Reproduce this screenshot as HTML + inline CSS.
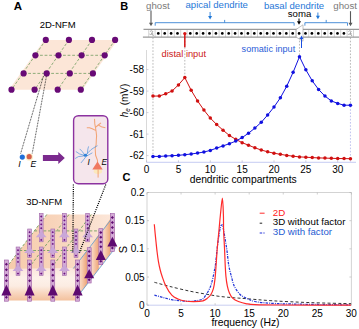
<!DOCTYPE html>
<html><head><meta charset="utf-8"><style>
html,body{margin:0;padding:0;background:#fff;width:359px;height:329px;overflow:hidden;}
svg{display:block;font-family:"Liberation Sans",sans-serif;}
</style></head><body>
<svg width="359" height="329" viewBox="0 0 359 329" font-family="Liberation Sans, sans-serif"><text x="13.80" y="10.20" font-size="11.5" fill="#000" text-anchor="start" font-weight="bold" font-style="normal" >A</text>
<text x="39.70" y="28.20" font-size="9.5" fill="#000" text-anchor="start" font-weight="normal" font-style="normal" >2D-NFM</text>
<polygon points="44.3,39.9 117.6,39.9 82.3,89.7 9.0,89.7" fill="#fce6d7"/>
<path d="M35.4,55.3L104.7,55.3M23.6,73.4L92.9,73.4M45.8,39.9L11.5,89.7M68.9,39.9L34.6,89.7M92.0,39.9L57.7,89.7M115.1,39.9L80.8,89.7" stroke="#88aa74" stroke-width="0.95" stroke-dasharray="2.8,1.8" fill="none"/>
<path d="M43.5,76L20.5,154M46.5,76L32.2,153.5" stroke="#111" stroke-width="0.85" stroke-dasharray="0.8,0.8" fill="none"/>
<circle cx="45.80" cy="39.90" r="3.1" fill="#680a76"/>
<circle cx="68.90" cy="39.90" r="3.1" fill="#680a76"/>
<circle cx="92.00" cy="39.90" r="3.1" fill="#680a76"/>
<circle cx="115.10" cy="39.90" r="3.1" fill="#680a76"/>
<circle cx="35.40" cy="55.30" r="3.1" fill="#680a76"/>
<circle cx="58.50" cy="55.30" r="3.1" fill="#680a76"/>
<circle cx="81.60" cy="55.30" r="3.1" fill="#680a76"/>
<circle cx="104.70" cy="55.30" r="3.1" fill="#680a76"/>
<circle cx="23.60" cy="73.40" r="3.1" fill="#680a76"/>
<circle cx="46.70" cy="73.40" r="3.1" fill="#680a76"/>
<circle cx="69.80" cy="73.40" r="3.1" fill="#680a76"/>
<circle cx="92.90" cy="73.40" r="3.1" fill="#680a76"/>
<circle cx="11.50" cy="89.70" r="3.1" fill="#680a76"/>
<circle cx="34.60" cy="89.70" r="3.1" fill="#680a76"/>
<circle cx="57.70" cy="89.70" r="3.1" fill="#680a76"/>
<circle cx="80.80" cy="89.70" r="3.1" fill="#680a76"/>
<circle cx="29.3" cy="157" r="3.8" fill="#fbeec8" opacity="0.9"/>
<circle cx="22.3" cy="157.1" r="2.6" fill="#1f6fd8"/>
<circle cx="29.2" cy="156.7" r="2.6" fill="#d4604c"/>
<text x="18.30" y="166.70" font-size="8.8" fill="#000" text-anchor="start" font-weight="normal" font-style="italic" >I</text>
<text x="30.40" y="166.70" font-size="8.6" fill="#000" text-anchor="start" font-weight="normal" font-style="italic" >E</text>
<path d="M42.9,155H58.3V151.9L64.8,158L58.3,164.1V161.1H42.9Z" fill="#7b2a8e"/>
<rect x="73.6" y="115.7" width="34.2" height="68" rx="4.8" fill="#f5e6ec" stroke="#8c32a0" stroke-width="1.4"/>
<path d="M94.5,118.9 L94.8,123.9 L95.5,127.7 L96.1,131.5 L96.6,135.9 L96.3,140.3 L96.1,144.7 L95.2,148.5 L95.6,155.3 L97.5,160.4 L97.5,163 M95.5,130.4 L92.3,128.8 L89.5,127.7 L86.8,127.7 M95.2,127.7 L98.3,125 L101,122.8 M98.3,125 L102.1,127.1 L105.4,127.7" stroke="#f2a476" stroke-width="1.05" fill="none" stroke-linejoin="round"/>
<ellipse cx="97.9" cy="171.3" rx="4.2" ry="2.6" fill="#fbe9bd"/>
<path d="M98.1,169.5 L98.1,177.6" stroke="#f2a476" stroke-width="1" fill="none"/>
<polygon points="97.5,161.6 102.7,169.5 92.3,169.5" fill="#f07862"/>
<path d="M85.4,155.3 L88.6,152.1 L91.1,149.6 L95,147 L97.5,145.7 M87.3,154 L87.9,148.9 L88.6,146.4 M84.1,154 L82.2,151.5 L79.7,148.9 M84.1,155.3 L79.7,154 L75.8,151.5 M83.5,156 L78.4,156.6 L75.2,158.5 M86,156.6 L83.5,159.8 L80.9,163 M86.7,156 L92.4,152.8" stroke="#5a9ade" stroke-width="0.75" fill="none" stroke-linejoin="round"/>
<ellipse cx="85.4" cy="155.3" rx="1.9" ry="1.5" fill="#2f80d6"/>
<text x="87.60" y="164.60" font-size="8.3" fill="#000" text-anchor="start" font-weight="normal" font-style="italic" >I</text>
<text x="101.60" y="164.60" font-size="8.3" fill="#000" text-anchor="start" font-weight="normal" font-style="italic" >E</text>
<text x="26.30" y="204.60" font-size="9.5" fill="#000" text-anchor="start" font-weight="normal" font-style="normal" >3D-NFM</text>
<defs>
<linearGradient id="gfront" x1="0" y1="0" x2="0" y2="1">
<stop offset="0" stop-color="#fbe6dc"/><stop offset="0.3" stop-color="#fdf1ea"/><stop offset="0.55" stop-color="#fcece2"/><stop offset="0.78" stop-color="#f8d5bd"/><stop offset="1" stop-color="#f3c19d"/></linearGradient>
<linearGradient id="gtop" x1="0" y1="0" x2="1" y2="0">
<stop offset="0" stop-color="#f6cbab"/><stop offset="0.45" stop-color="#f8d4ba"/><stop offset="1" stop-color="#fce7da"/></linearGradient>
<linearGradient id="gstripe" x1="0" y1="0" x2="1" y2="0">
<stop offset="0" stop-color="#fdebe0"/><stop offset="0.5" stop-color="#f8d2b8"/><stop offset="1" stop-color="#eda476"/></linearGradient>
<pattern id="pright" patternUnits="userSpaceOnUse" x="75.4" y="0" width="11.7" height="400">
<rect width="11.7" height="400" fill="url(#gstripe)"/></pattern>
</defs>
<polygon points="5.3,269 73.3,268.5 113.5,214.5 46.8,214.5" fill="url(#gtop)"/>
<polygon points="73.3,268.5 113.5,214.5 115.6,247.5 76.5,297.9" fill="url(#pright)"/>
<polygon points="5.3,269 74.8,268.5 76.5,297.9 76.5,300.5 5.3,300.5" fill="url(#gfront)"/>
<path d="M34.3,230.9L101.4,230.9M19.4,250.5L86.9,250.5M46.8,214.5L5.3,269.0M69.0,214.5L28.0,269.0M91.3,214.5L50.6,269.0" stroke="#80a66a" stroke-width="1.0" stroke-dasharray="2.8,1.8" fill="none"/>
<path d="M73.3,268.5L113.0,217.0M78.5,295.3L115.6,247.5" stroke="#5a9ad0" stroke-width="0.8" fill="none"/>
<rect x="39.30" y="213.30" width="3.8" height="28.5" fill="#d2aad6" stroke="#a066aa" stroke-width="0.6"/>
<path d="M41.20,215.35L42.35,216.50L41.20,217.65L40.05,216.50Z" fill="#6a1080"/>
<path d="M41.20,219.25L42.35,220.40L41.20,221.55L40.05,220.40Z" fill="#6a1080"/>
<path d="M41.20,223.15L42.35,224.30L41.20,225.45L40.05,224.30Z" fill="#6a1080"/>
<path d="M41.20,227.05L42.35,228.20L41.20,229.35L40.05,228.20Z" fill="#6a1080"/>
<path d="M41.20,238.75L42.35,239.90L41.20,241.05L40.05,239.90Z" fill="#6a1080"/>
<polygon points="41.20,231.10 46.60,237.30 35.80,237.30" fill="#c9a6d8"/>
<rect x="62.50" y="213.30" width="3.8" height="28.5" fill="#d2aad6" stroke="#a066aa" stroke-width="0.6"/>
<path d="M64.40,215.35L65.55,216.50L64.40,217.65L63.25,216.50Z" fill="#6a1080"/>
<path d="M64.40,219.25L65.55,220.40L64.40,221.55L63.25,220.40Z" fill="#6a1080"/>
<path d="M64.40,223.15L65.55,224.30L64.40,225.45L63.25,224.30Z" fill="#6a1080"/>
<path d="M64.40,227.05L65.55,228.20L64.40,229.35L63.25,228.20Z" fill="#6a1080"/>
<path d="M64.40,238.75L65.55,239.90L64.40,241.05L63.25,239.90Z" fill="#6a1080"/>
<polygon points="64.40,231.10 69.80,237.30 59.00,237.30" fill="#c9a6d8"/>
<rect x="85.70" y="213.30" width="3.8" height="28.5" fill="#d2aad6" stroke="#a066aa" stroke-width="0.6"/>
<path d="M87.60,215.35L88.75,216.50L87.60,217.65L86.45,216.50Z" fill="#6a1080"/>
<path d="M87.60,219.25L88.75,220.40L87.60,221.55L86.45,220.40Z" fill="#6a1080"/>
<path d="M87.60,223.15L88.75,224.30L87.60,225.45L86.45,224.30Z" fill="#6a1080"/>
<path d="M87.60,227.05L88.75,228.20L87.60,229.35L86.45,228.20Z" fill="#6a1080"/>
<path d="M87.60,238.75L88.75,239.90L87.60,241.05L86.45,239.90Z" fill="#6a1080"/>
<polygon points="87.60,231.10 93.00,237.30 82.20,237.30" fill="#c9a6d8"/>
<rect x="27.70" y="229.00" width="3.8" height="28.5" fill="#d2aad6" stroke="#a066aa" stroke-width="0.6"/>
<path d="M29.60,231.05L30.75,232.20L29.60,233.35L28.45,232.20Z" fill="#6a1080"/>
<path d="M29.60,234.95L30.75,236.10L29.60,237.25L28.45,236.10Z" fill="#6a1080"/>
<path d="M29.60,238.85L30.75,240.00L29.60,241.15L28.45,240.00Z" fill="#6a1080"/>
<path d="M29.60,242.75L30.75,243.90L29.60,245.05L28.45,243.90Z" fill="#6a1080"/>
<path d="M29.60,254.45L30.75,255.60L29.60,256.75L28.45,255.60Z" fill="#6a1080"/>
<polygon points="29.60,246.80 35.00,253.00 24.20,253.00" fill="#c9a6d8"/>
<rect x="50.90" y="229.00" width="3.8" height="28.5" fill="#d2aad6" stroke="#a066aa" stroke-width="0.6"/>
<path d="M52.80,231.05L53.95,232.20L52.80,233.35L51.65,232.20Z" fill="#6a1080"/>
<path d="M52.80,234.95L53.95,236.10L52.80,237.25L51.65,236.10Z" fill="#6a1080"/>
<path d="M52.80,238.85L53.95,240.00L52.80,241.15L51.65,240.00Z" fill="#6a1080"/>
<path d="M52.80,242.75L53.95,243.90L52.80,245.05L51.65,243.90Z" fill="#6a1080"/>
<path d="M52.80,254.45L53.95,255.60L52.80,256.75L51.65,255.60Z" fill="#6a1080"/>
<polygon points="52.80,246.80 58.20,253.00 47.40,253.00" fill="#c9a6d8"/>
<rect x="74.10" y="229.00" width="3.8" height="28.5" fill="#d2aad6" stroke="#a066aa" stroke-width="0.6"/>
<path d="M76.00,231.05L77.15,232.20L76.00,233.35L74.85,232.20Z" fill="#6a1080"/>
<path d="M76.00,234.95L77.15,236.10L76.00,237.25L74.85,236.10Z" fill="#6a1080"/>
<path d="M76.00,238.85L77.15,240.00L76.00,241.15L74.85,240.00Z" fill="#6a1080"/>
<path d="M76.00,242.75L77.15,243.90L76.00,245.05L74.85,243.90Z" fill="#6a1080"/>
<path d="M76.00,254.45L77.15,255.60L76.00,256.75L74.85,255.60Z" fill="#6a1080"/>
<polygon points="76.00,246.80 81.40,253.00 70.60,253.00" fill="#c9a6d8"/>
<rect x="16.10" y="247.00" width="3.8" height="28.5" fill="#d2aad6" stroke="#a066aa" stroke-width="0.6"/>
<path d="M18.00,249.05L19.15,250.20L18.00,251.35L16.85,250.20Z" fill="#6a1080"/>
<path d="M18.00,252.95L19.15,254.10L18.00,255.25L16.85,254.10Z" fill="#6a1080"/>
<path d="M18.00,256.85L19.15,258.00L18.00,259.15L16.85,258.00Z" fill="#6a1080"/>
<path d="M18.00,260.75L19.15,261.90L18.00,263.05L16.85,261.90Z" fill="#6a1080"/>
<path d="M18.00,272.45L19.15,273.60L18.00,274.75L16.85,273.60Z" fill="#6a1080"/>
<polygon points="18.00,264.80 23.40,271.00 12.60,271.00" fill="#c9a6d8"/>
<rect x="39.30" y="247.00" width="3.8" height="28.5" fill="#d2aad6" stroke="#a066aa" stroke-width="0.6"/>
<path d="M41.20,249.05L42.35,250.20L41.20,251.35L40.05,250.20Z" fill="#6a1080"/>
<path d="M41.20,252.95L42.35,254.10L41.20,255.25L40.05,254.10Z" fill="#6a1080"/>
<path d="M41.20,256.85L42.35,258.00L41.20,259.15L40.05,258.00Z" fill="#6a1080"/>
<path d="M41.20,260.75L42.35,261.90L41.20,263.05L40.05,261.90Z" fill="#6a1080"/>
<path d="M41.20,272.45L42.35,273.60L41.20,274.75L40.05,273.60Z" fill="#6a1080"/>
<polygon points="41.20,264.80 46.60,271.00 35.80,271.00" fill="#c9a6d8"/>
<rect x="62.50" y="247.00" width="3.8" height="28.5" fill="#d2aad6" stroke="#a066aa" stroke-width="0.6"/>
<path d="M64.40,249.05L65.55,250.20L64.40,251.35L63.25,250.20Z" fill="#6a1080"/>
<path d="M64.40,252.95L65.55,254.10L64.40,255.25L63.25,254.10Z" fill="#6a1080"/>
<path d="M64.40,256.85L65.55,258.00L64.40,259.15L63.25,258.00Z" fill="#6a1080"/>
<path d="M64.40,260.75L65.55,261.90L64.40,263.05L63.25,261.90Z" fill="#6a1080"/>
<path d="M64.40,272.45L65.55,273.60L64.40,274.75L63.25,273.60Z" fill="#6a1080"/>
<polygon points="64.40,264.80 69.80,271.00 59.00,271.00" fill="#c9a6d8"/>
<path d="M73.4,184.5L72.8,253M105.8,184.5L79.2,253" stroke="#000" stroke-width="1.25" stroke-dasharray="1.1,1.1" fill="none"/>
<rect x="110.45" y="213.50" width="3.9" height="38" fill="#d4abd6" stroke="#9a58a2" stroke-width="0.6"/>
<path d="M112.40,215.97L113.90,217.47L112.40,218.97L110.90,217.47Z" fill="#5e0a70"/>
<path d="M112.40,221.04L113.90,222.54L112.40,224.04L110.90,222.54Z" fill="#5e0a70"/>
<path d="M112.40,226.11L113.90,227.61L112.40,229.11L110.90,227.61Z" fill="#5e0a70"/>
<path d="M112.40,231.18L113.90,232.68L112.40,234.18L110.90,232.68Z" fill="#5e0a70"/>
<path d="M112.40,246.40L113.90,247.90L112.40,249.40L110.90,247.90Z" fill="#5e0a70"/>
<polygon points="112.40,236.70 117.40,246.50 107.40,246.50" fill="#5e0a70"/>
<rect x="98.85" y="228.70" width="3.9" height="36" fill="#d4abd6" stroke="#9a58a2" stroke-width="0.6"/>
<path d="M100.80,230.96L102.30,232.46L100.80,233.96L99.30,232.46Z" fill="#5e0a70"/>
<path d="M100.80,235.76L102.30,237.26L100.80,238.76L99.30,237.26Z" fill="#5e0a70"/>
<path d="M100.80,240.57L102.30,242.07L100.80,243.57L99.30,242.07Z" fill="#5e0a70"/>
<path d="M100.80,245.37L102.30,246.87L100.80,248.37L99.30,246.87Z" fill="#5e0a70"/>
<path d="M100.80,259.79L102.30,261.29L100.80,262.79L99.30,261.29Z" fill="#5e0a70"/>
<polygon points="100.80,250.10 105.80,259.90 95.80,259.90" fill="#5e0a70"/>
<rect x="87.25" y="247.70" width="3.9" height="35.3" fill="#d4abd6" stroke="#9a58a2" stroke-width="0.6"/>
<path d="M89.20,249.88L90.70,251.38L89.20,252.88L87.70,251.38Z" fill="#5e0a70"/>
<path d="M89.20,254.60L90.70,256.10L89.20,257.60L87.70,256.10Z" fill="#5e0a70"/>
<path d="M89.20,259.31L90.70,260.81L89.20,262.31L87.70,260.81Z" fill="#5e0a70"/>
<path d="M89.20,264.02L90.70,265.52L89.20,267.02L87.70,265.52Z" fill="#5e0a70"/>
<path d="M89.20,278.16L90.70,279.66L89.20,281.16L87.70,279.66Z" fill="#5e0a70"/>
<polygon points="89.20,268.90 94.20,278.20 84.20,278.20" fill="#5e0a70"/>
<rect x="4.45" y="260.00" width="3.9" height="41.2" fill="#d4abd6" stroke="#9a58a2" stroke-width="0.6"/>
<path d="M6.40,262.80L7.90,264.30L6.40,265.80L4.90,264.30Z" fill="#5e0a70"/>
<path d="M6.40,268.30L7.90,269.80L6.40,271.30L4.90,269.80Z" fill="#5e0a70"/>
<path d="M6.40,273.80L7.90,275.30L6.40,276.80L4.90,275.30Z" fill="#5e0a70"/>
<path d="M6.40,279.30L7.90,280.80L6.40,282.30L4.90,280.80Z" fill="#5e0a70"/>
<path d="M6.40,295.80L7.90,297.30L6.40,298.80L4.90,297.30Z" fill="#5e0a70"/>
<polygon points="6.40,284.40 11.40,295.60 1.40,295.60" fill="#5e0a70"/>
<rect x="27.65" y="260.00" width="3.9" height="41.2" fill="#d4abd6" stroke="#9a58a2" stroke-width="0.6"/>
<path d="M29.60,262.80L31.10,264.30L29.60,265.80L28.10,264.30Z" fill="#5e0a70"/>
<path d="M29.60,268.30L31.10,269.80L29.60,271.30L28.10,269.80Z" fill="#5e0a70"/>
<path d="M29.60,273.80L31.10,275.30L29.60,276.80L28.10,275.30Z" fill="#5e0a70"/>
<path d="M29.60,279.30L31.10,280.80L29.60,282.30L28.10,280.80Z" fill="#5e0a70"/>
<path d="M29.60,295.80L31.10,297.30L29.60,298.80L28.10,297.30Z" fill="#5e0a70"/>
<polygon points="29.60,284.40 34.60,295.60 24.60,295.60" fill="#5e0a70"/>
<rect x="50.85" y="260.00" width="3.9" height="41.2" fill="#d4abd6" stroke="#9a58a2" stroke-width="0.6"/>
<path d="M52.80,262.80L54.30,264.30L52.80,265.80L51.30,264.30Z" fill="#5e0a70"/>
<path d="M52.80,268.30L54.30,269.80L52.80,271.30L51.30,269.80Z" fill="#5e0a70"/>
<path d="M52.80,273.80L54.30,275.30L52.80,276.80L51.30,275.30Z" fill="#5e0a70"/>
<path d="M52.80,279.30L54.30,280.80L52.80,282.30L51.30,280.80Z" fill="#5e0a70"/>
<path d="M52.80,295.80L54.30,297.30L52.80,298.80L51.30,297.30Z" fill="#5e0a70"/>
<polygon points="52.80,284.40 57.80,295.60 47.80,295.60" fill="#5e0a70"/>
<rect x="75.65" y="260.00" width="3.9" height="41.2" fill="#d4abd6" stroke="#9a58a2" stroke-width="0.6"/>
<path d="M77.60,262.80L79.10,264.30L77.60,265.80L76.10,264.30Z" fill="#5e0a70"/>
<path d="M77.60,268.30L79.10,269.80L77.60,271.30L76.10,269.80Z" fill="#5e0a70"/>
<path d="M77.60,273.80L79.10,275.30L77.60,276.80L76.10,275.30Z" fill="#5e0a70"/>
<path d="M77.60,279.30L79.10,280.80L77.60,282.30L76.10,280.80Z" fill="#5e0a70"/>
<path d="M77.60,295.80L79.10,297.30L77.60,298.80L76.10,297.30Z" fill="#5e0a70"/>
<polygon points="77.60,284.40 82.60,295.60 72.60,295.60" fill="#5e0a70"/>
<text x="120.30" y="10.20" font-size="11" fill="#000" text-anchor="start" font-weight="bold" font-style="normal" >B</text>
<text x="146.10" y="8.70" font-size="9.7" fill="#7a7a7a" text-anchor="start" font-weight="normal" font-style="normal" >ghost</text>
<text x="333.30" y="8.70" font-size="9.7" fill="#7a7a7a" text-anchor="start" font-weight="normal" font-style="normal" >ghost</text>
<text x="185.50" y="8.20" font-size="9.6" fill="#1f78d8" text-anchor="start" font-weight="normal" font-style="normal" >apical dendrite</text>
<text x="263.90" y="8.80" font-size="9.6" fill="#1f78d8" text-anchor="start" font-weight="normal" font-style="normal" >basal dendrite</text>
<text x="287.80" y="16.80" font-size="9.6" fill="#000" text-anchor="start" font-weight="normal" font-style="normal" >soma</text>
<path d="M151,10.6L151,23.2" stroke="#585858" stroke-width="1.1"/>
<polygon points="149.0,22.7 153.0,22.7 151,26.2" fill="#585858"/>
<path d="M350.5,11.2L350.5,23.3" stroke="#585858" stroke-width="1.1"/>
<polygon points="348.5,22.8 352.5,22.8 350.5,26.3" fill="#585858"/>
<path d="M210.1,12L210.1,16.5" stroke="#1f78d8" stroke-width="0.9"/>
<polygon points="208.1,16.0 212.1,16.0 210.1,19.5" fill="#1f78d8"/>
<path d="M317.9,12.5L317.9,16.3" stroke="#1f78d8" stroke-width="0.9"/>
<polygon points="315.9,15.8 319.9,15.8 317.9,19.3" fill="#1f78d8"/>
<path d="M299,18.5L299,21.8" stroke="#000" stroke-width="1.0"/>
<polygon points="297.0,21.3 301.0,21.3 299,24.8" fill="#000"/>
<path d="M155.2,25.7V22.7H294.1V25.7M224.65,22.7V19.9" stroke="#3a84d4" stroke-width="0.9" fill="none"/>
<path d="M304.9,25.7V22.7H347.5V25.7M326.2,22.7V19.9" stroke="#3a84d4" stroke-width="0.9" fill="none"/>
<rect x="143.5" y="29.4" width="215.5" height="7.800000000000004" fill="#fff"/>
<path d="M148.70,29.4V37.2M155.10,29.4V37.2M161.50,29.4V37.2M167.90,29.4V37.2M174.30,29.4V37.2M180.70,29.4V37.2M187.10,29.4V37.2M193.50,29.4V37.2M199.90,29.4V37.2M206.30,29.4V37.2M212.70,29.4V37.2M219.10,29.4V37.2M225.50,29.4V37.2M231.90,29.4V37.2M238.30,29.4V37.2M244.70,29.4V37.2M251.10,29.4V37.2M257.50,29.4V37.2M263.90,29.4V37.2M270.30,29.4V37.2M276.70,29.4V37.2M283.10,29.4V37.2M289.50,29.4V37.2M295.90,29.4V37.2M302.30,29.4V37.2M308.70,29.4V37.2M315.10,29.4V37.2M321.50,29.4V37.2M327.90,29.4V37.2M334.30,29.4V37.2M340.70,29.4V37.2M347.10,29.4V37.2M353.50,29.4V37.2" stroke="#b8b8b8" stroke-width="0.6"/>
<path d="M143.5,29.4H359M142.9,37.2H359" stroke="#9a9a9a" stroke-width="1.2"/>
<circle cx="158.30" cy="33.4" r="1.35" fill="#000"/>
<circle cx="164.70" cy="33.4" r="1.35" fill="#000"/>
<circle cx="171.10" cy="33.4" r="1.35" fill="#000"/>
<circle cx="177.50" cy="33.4" r="1.35" fill="#000"/>
<circle cx="190.30" cy="33.4" r="1.35" fill="#000"/>
<circle cx="196.70" cy="33.4" r="1.35" fill="#000"/>
<circle cx="203.10" cy="33.4" r="1.35" fill="#000"/>
<circle cx="209.50" cy="33.4" r="1.35" fill="#000"/>
<circle cx="215.90" cy="33.4" r="1.35" fill="#000"/>
<circle cx="222.30" cy="33.4" r="1.35" fill="#000"/>
<circle cx="228.70" cy="33.4" r="1.35" fill="#000"/>
<circle cx="235.10" cy="33.4" r="1.35" fill="#000"/>
<circle cx="241.50" cy="33.4" r="1.35" fill="#000"/>
<circle cx="247.90" cy="33.4" r="1.35" fill="#000"/>
<circle cx="254.30" cy="33.4" r="1.35" fill="#000"/>
<circle cx="260.70" cy="33.4" r="1.35" fill="#000"/>
<circle cx="267.10" cy="33.4" r="1.35" fill="#000"/>
<circle cx="273.50" cy="33.4" r="1.35" fill="#000"/>
<circle cx="279.90" cy="33.4" r="1.35" fill="#000"/>
<circle cx="286.30" cy="33.4" r="1.35" fill="#000"/>
<circle cx="292.70" cy="33.4" r="1.35" fill="#000"/>
<circle cx="305.50" cy="33.4" r="1.35" fill="#000"/>
<circle cx="311.90" cy="33.4" r="1.35" fill="#000"/>
<circle cx="318.30" cy="33.4" r="1.35" fill="#000"/>
<circle cx="324.70" cy="33.4" r="1.35" fill="#000"/>
<circle cx="331.10" cy="33.4" r="1.35" fill="#000"/>
<circle cx="337.50" cy="33.4" r="1.35" fill="#000"/>
<circle cx="343.90" cy="33.4" r="1.35" fill="#000"/>
<path d="M296.2,29.4L303,24.8V41.2L296.2,37.2Z" fill="#fff" stroke="#9a9a9a" stroke-width="0.6"/>
<circle cx="299.10" cy="33.4" r="1.35" fill="#000"/>
<path d="M149.9,31.5q1.5,-1.5 3,0q-2,1.5 -1,3q1.5,0 1.5,1.5M149.4,34q1,1 2,0q1,-1.5 2,0" stroke="#8a8a8a" stroke-width="0.7" fill="none"/>
<path d="M348.3,31.5q1.5,-1.5 3,0q-2,1.5 -1,3q1.5,0 1.5,1.5M347.8,34q1,1 2,0q1,-1.5 2,0" stroke="#8a8a8a" stroke-width="0.7" fill="none"/>
<path d="M152.97,37.5V154M184.82,37.5V77M299.48,37.5V56M350.44,37.5V104" stroke="#9a9a9a" stroke-width="0.7" stroke-dasharray="1.6,1.6"/>
<path d="M350.44,106V161.5" stroke="#a4a8e8" stroke-width="0.7" stroke-dasharray="1.6,1.6"/>
<text x="161.60" y="56.60" font-size="9.3" fill="#cc1a1a" text-anchor="start" font-weight="normal" font-style="normal" >distal input</text>
<text x="241.60" y="51.70" font-size="9.1" fill="#2a5cd8" text-anchor="start" font-weight="normal" font-style="normal" >somatic input</text>
<path d="M184.82,47.2V34" stroke="#d41414" stroke-width="1.5"/>
<circle cx="184.82" cy="33.6" r="1.65" fill="#d41414"/>
<path d="M301.5,48V37.5" stroke="#1a4fe0" stroke-width="1"/>
<polygon points="299.6,39 303.4,39 301.5,35.4" fill="#1a4fe0"/>
<path d="M146.5,50V162.3" stroke="#cfcfcf" stroke-width="0.8" fill="none"/>
<path d="M146.5,162.3H356" stroke="#b8bff0" stroke-width="0.8" fill="none"/>
<text x="144.00" y="73.20" font-size="10" fill="#000" text-anchor="end" font-weight="normal" font-style="normal" >-58</text>
<text x="144.00" y="94.70" font-size="10" fill="#000" text-anchor="end" font-weight="normal" font-style="normal" >-59</text>
<text x="144.00" y="116.20" font-size="10" fill="#000" text-anchor="end" font-weight="normal" font-style="normal" >-60</text>
<text x="144.00" y="137.70" font-size="10" fill="#000" text-anchor="end" font-weight="normal" font-style="normal" >-61</text>
<text x="144.00" y="159.20" font-size="10" fill="#000" text-anchor="end" font-weight="normal" font-style="normal" >-62</text>
<text x="146.60" y="173.30" font-size="10" fill="#000" text-anchor="middle" font-weight="normal" font-style="normal" >0</text>
<text x="178.45" y="173.30" font-size="10" fill="#000" text-anchor="middle" font-weight="normal" font-style="normal" >5</text>
<text x="210.30" y="173.30" font-size="10" fill="#000" text-anchor="middle" font-weight="normal" font-style="normal" >10</text>
<text x="242.15" y="173.30" font-size="10" fill="#000" text-anchor="middle" font-weight="normal" font-style="normal" >15</text>
<text x="274.00" y="173.30" font-size="10" fill="#000" text-anchor="middle" font-weight="normal" font-style="normal" >20</text>
<text x="305.85" y="173.30" font-size="10" fill="#000" text-anchor="middle" font-weight="normal" font-style="normal" >25</text>
<text x="337.70" y="173.30" font-size="10" fill="#000" text-anchor="middle" font-weight="normal" font-style="normal" >30</text>
<path d="M146.5,69.60h2M146.5,91.10h2M146.5,112.60h2M146.5,134.10h2M146.5,155.60h2M146.60,162.3v-2M178.45,162.3v-2M210.30,162.3v-2M242.15,162.3v-2M274.00,162.3v-2M305.85,162.3v-2M337.70,162.3v-2" stroke="#b0b0c8" stroke-width="0.6"/>
<text x="243.20" y="183.00" font-size="10.3" fill="#000" text-anchor="middle" font-weight="normal" font-style="normal" >dendritic compartments</text>
<text transform="translate(128.2,100.5) rotate(-90)" font-size="10" text-anchor="middle" font-family="Liberation Sans, sans-serif"><tspan font-style="italic">h</tspan><tspan font-size="6.5" font-style="italic" dy="2">e</tspan><tspan dy="-2"> (mV)</tspan></text>
<polyline points="152.97,96.10 159.34,96.00 165.71,93.80 172.08,91.00 178.45,84.90 184.82,77.60 191.19,90.30 197.56,100.90 203.93,110.10 210.30,118.10 216.67,124.50 223.04,130.20 229.41,135.50 235.78,139.30 242.15,142.70 248.52,145.20 254.89,147.80 261.26,150.00 267.63,151.80 274.00,153.20 280.37,154.30 286.74,155.40 293.11,156.20 299.48,156.90 305.85,157.20 312.22,157.60 318.59,157.90 324.96,158.10 331.33,158.30 337.70,158.50 344.07,158.60 350.44,158.70" stroke="#d01010" stroke-width="1" fill="none"/>
<circle cx="152.97" cy="96.10" r="1.75" fill="#d01010"/>
<circle cx="159.34" cy="96.00" r="1.75" fill="#d01010"/>
<circle cx="165.71" cy="93.80" r="1.75" fill="#d01010"/>
<circle cx="172.08" cy="91.00" r="1.75" fill="#d01010"/>
<circle cx="178.45" cy="84.90" r="1.75" fill="#d01010"/>
<circle cx="184.82" cy="77.60" r="1.75" fill="#d01010"/>
<circle cx="191.19" cy="90.30" r="1.75" fill="#d01010"/>
<circle cx="197.56" cy="100.90" r="1.75" fill="#d01010"/>
<circle cx="203.93" cy="110.10" r="1.75" fill="#d01010"/>
<circle cx="210.30" cy="118.10" r="1.75" fill="#d01010"/>
<circle cx="216.67" cy="124.50" r="1.75" fill="#d01010"/>
<circle cx="223.04" cy="130.20" r="1.75" fill="#d01010"/>
<circle cx="229.41" cy="135.50" r="1.75" fill="#d01010"/>
<circle cx="235.78" cy="139.30" r="1.75" fill="#d01010"/>
<circle cx="242.15" cy="142.70" r="1.75" fill="#d01010"/>
<circle cx="248.52" cy="145.20" r="1.75" fill="#d01010"/>
<circle cx="254.89" cy="147.80" r="1.75" fill="#d01010"/>
<circle cx="261.26" cy="150.00" r="1.75" fill="#d01010"/>
<circle cx="267.63" cy="151.80" r="1.75" fill="#d01010"/>
<circle cx="274.00" cy="153.20" r="1.75" fill="#d01010"/>
<circle cx="280.37" cy="154.30" r="1.75" fill="#d01010"/>
<circle cx="286.74" cy="155.40" r="1.75" fill="#d01010"/>
<circle cx="293.11" cy="156.20" r="1.75" fill="#d01010"/>
<circle cx="299.48" cy="156.90" r="1.75" fill="#d01010"/>
<circle cx="305.85" cy="157.20" r="1.75" fill="#d01010"/>
<circle cx="312.22" cy="157.60" r="1.75" fill="#d01010"/>
<circle cx="318.59" cy="157.90" r="1.75" fill="#d01010"/>
<circle cx="324.96" cy="158.10" r="1.75" fill="#d01010"/>
<circle cx="331.33" cy="158.30" r="1.75" fill="#d01010"/>
<circle cx="337.70" cy="158.50" r="1.75" fill="#d01010"/>
<circle cx="344.07" cy="158.60" r="1.75" fill="#d01010"/>
<circle cx="350.44" cy="158.70" r="1.75" fill="#d01010"/>
<polyline points="152.97,156.40 159.34,156.40 165.71,156.00 172.08,155.70 178.45,155.30 184.82,154.70 191.19,154.00 197.56,153.10 203.93,152.00 210.30,150.40 216.67,148.10 223.04,145.90 229.41,143.70 235.78,141.10 242.15,137.60 248.52,133.20 254.89,128.10 261.26,122.30 267.63,115.00 274.00,107.00 280.37,97.80 286.74,86.20 293.11,72.30 299.48,56.70 305.85,69.80 312.22,80.80 318.59,89.50 324.96,96.10 331.33,100.90 337.70,103.40 344.07,105.20 350.44,105.20" stroke="#1010e0" stroke-width="1" fill="none"/>
<circle cx="152.97" cy="156.40" r="1.75" fill="#1010e0"/>
<circle cx="159.34" cy="156.40" r="1.75" fill="#1010e0"/>
<circle cx="165.71" cy="156.00" r="1.75" fill="#1010e0"/>
<circle cx="172.08" cy="155.70" r="1.75" fill="#1010e0"/>
<circle cx="178.45" cy="155.30" r="1.75" fill="#1010e0"/>
<circle cx="184.82" cy="154.70" r="1.75" fill="#1010e0"/>
<circle cx="191.19" cy="154.00" r="1.75" fill="#1010e0"/>
<circle cx="197.56" cy="153.10" r="1.75" fill="#1010e0"/>
<circle cx="203.93" cy="152.00" r="1.75" fill="#1010e0"/>
<circle cx="210.30" cy="150.40" r="1.75" fill="#1010e0"/>
<circle cx="216.67" cy="148.10" r="1.75" fill="#1010e0"/>
<circle cx="223.04" cy="145.90" r="1.75" fill="#1010e0"/>
<circle cx="229.41" cy="143.70" r="1.75" fill="#1010e0"/>
<circle cx="235.78" cy="141.10" r="1.75" fill="#1010e0"/>
<circle cx="242.15" cy="137.60" r="1.75" fill="#1010e0"/>
<circle cx="248.52" cy="133.20" r="1.75" fill="#1010e0"/>
<circle cx="254.89" cy="128.10" r="1.75" fill="#1010e0"/>
<circle cx="261.26" cy="122.30" r="1.75" fill="#1010e0"/>
<circle cx="267.63" cy="115.00" r="1.75" fill="#1010e0"/>
<circle cx="274.00" cy="107.00" r="1.75" fill="#1010e0"/>
<circle cx="280.37" cy="97.80" r="1.75" fill="#1010e0"/>
<circle cx="286.74" cy="86.20" r="1.75" fill="#1010e0"/>
<circle cx="293.11" cy="72.30" r="1.75" fill="#1010e0"/>
<circle cx="299.48" cy="56.70" r="1.75" fill="#1010e0"/>
<circle cx="305.85" cy="69.80" r="1.75" fill="#1010e0"/>
<circle cx="312.22" cy="80.80" r="1.75" fill="#1010e0"/>
<circle cx="318.59" cy="89.50" r="1.75" fill="#1010e0"/>
<circle cx="324.96" cy="96.10" r="1.75" fill="#1010e0"/>
<circle cx="331.33" cy="100.90" r="1.75" fill="#1010e0"/>
<circle cx="337.70" cy="103.40" r="1.75" fill="#1010e0"/>
<circle cx="344.07" cy="105.20" r="1.75" fill="#1010e0"/>
<circle cx="350.44" cy="105.20" r="1.75" fill="#1010e0"/>
<text x="122.50" y="181.30" font-size="11" fill="#000" text-anchor="start" font-weight="bold" font-style="normal" >C</text>
<path d="M147,305.2V192.5H351.4V305.2" fill="none" stroke="#c8c8c8" stroke-width="0.8"/><path d="M147,305.2H351.4" stroke="#bcc2ee" stroke-width="0.8"/>
<text x="144.60" y="308.80" font-size="10" fill="#000" text-anchor="end" font-weight="normal" font-style="normal" >0</text>
<text x="144.60" y="280.62" font-size="10" fill="#000" text-anchor="end" font-weight="normal" font-style="normal" >0.05</text>
<text x="144.60" y="252.45" font-size="10" fill="#000" text-anchor="end" font-weight="normal" font-style="normal" >0.1</text>
<text x="144.60" y="224.28" font-size="10" fill="#000" text-anchor="end" font-weight="normal" font-style="normal" >0.15</text>
<text x="144.60" y="196.10" font-size="10" fill="#000" text-anchor="end" font-weight="normal" font-style="normal" >0.2</text>
<text x="147.00" y="317.20" font-size="10" fill="#000" text-anchor="middle" font-weight="normal" font-style="normal" >0</text>
<text x="181.06" y="317.20" font-size="10" fill="#000" text-anchor="middle" font-weight="normal" font-style="normal" >5</text>
<text x="215.13" y="317.20" font-size="10" fill="#000" text-anchor="middle" font-weight="normal" font-style="normal" >10</text>
<text x="249.19" y="317.20" font-size="10" fill="#000" text-anchor="middle" font-weight="normal" font-style="normal" >15</text>
<text x="283.26" y="317.20" font-size="10" fill="#000" text-anchor="middle" font-weight="normal" font-style="normal" >20</text>
<text x="317.32" y="317.20" font-size="10" fill="#000" text-anchor="middle" font-weight="normal" font-style="normal" >25</text>
<text x="351.39" y="317.20" font-size="10" fill="#000" text-anchor="middle" font-weight="normal" font-style="normal" >30</text>
<path d="M147,305.20h2M351.4,305.20h-2M147,277.02h2M351.4,277.02h-2M147,248.85h2M351.4,248.85h-2M147,220.68h2M351.4,220.68h-2M147,192.50h2M351.4,192.50h-2M147.00,305.2v-2M147.00,192.5v2M181.06,305.2v-2M181.06,192.5v2M215.13,305.2v-2M215.13,192.5v2M249.19,305.2v-2M249.19,192.5v2M283.26,305.2v-2M283.26,192.5v2M317.32,305.2v-2M317.32,192.5v2M351.39,305.2v-2M351.39,192.5v2" stroke="#b0b0b0" stroke-width="0.6"/>
<text x="245.50" y="325.60" font-size="10.4" fill="#000" text-anchor="middle" font-weight="normal" font-style="normal" >frequency (Hz)</text>
<text transform="translate(127.4,249.7) rotate(-90)" font-size="11" text-anchor="middle" font-family="Liberation Sans, sans-serif">S</text>
<path d="M154.40,282.30C157.00,283.00 164.07,285.02 170.00,286.50C175.93,287.98 183.93,289.92 190.00,291.20C196.07,292.48 201.58,293.35 206.40,294.20C211.22,295.05 214.48,295.72 218.90,296.30C223.32,296.88 228.72,297.33 232.90,297.70C237.08,298.07 237.35,297.98 244.00,298.50C250.65,299.02 261.80,300.12 272.80,300.80C283.80,301.48 296.97,302.12 310.00,302.60C323.03,303.08 344.17,303.52 351.00,303.70" stroke="#333" stroke-width="1" stroke-dasharray="3,2.3" fill="none"/>
<path d="M154.40,295.20C155.80,295.57 159.92,296.65 162.80,297.40C165.68,298.15 168.72,299.13 171.70,299.70C174.68,300.27 177.72,300.52 180.70,300.80C183.68,301.08 186.63,301.48 189.60,301.40C192.57,301.32 196.27,300.73 198.50,300.30C200.73,299.87 201.68,299.82 203.00,298.80C204.32,297.78 205.37,295.77 206.40,294.20C207.43,292.63 208.27,291.48 209.20,289.40C210.13,287.32 210.97,285.77 212.00,281.70C213.03,277.63 214.53,270.62 215.40,265.00C216.27,259.38 216.40,254.17 217.20,248.00C218.00,241.83 219.33,231.87 220.20,228.00C221.07,224.13 221.90,224.80 222.40,224.80C222.90,224.80 222.50,224.13 223.20,228.00C223.90,231.87 225.68,241.83 226.60,248.00C227.52,254.17 227.92,260.32 228.70,265.00C229.48,269.68 230.38,272.62 231.30,276.10C232.22,279.58 232.78,282.88 234.20,285.90C235.62,288.92 237.70,292.12 239.80,294.20C241.90,296.28 244.27,297.18 246.80,298.40C249.33,299.62 251.13,300.70 255.00,301.50C258.87,302.30 262.50,302.75 270.00,303.20C277.50,303.65 286.50,303.92 300.00,304.20C313.50,304.48 342.50,304.78 351.00,304.90" stroke="#2436d8" stroke-width="1.25" stroke-dasharray="2.6,1.1,0.9,1.1" fill="none"/>
<path d="M154.30,224.30C154.43,225.75 154.82,230.08 155.10,233.00C155.38,235.92 155.67,238.63 156.00,241.80C156.33,244.97 156.70,248.75 157.10,252.00C157.50,255.25 157.90,258.38 158.40,261.30C158.90,264.22 159.50,267.05 160.10,269.50C160.70,271.95 161.07,273.30 162.00,276.00C162.93,278.70 164.07,282.50 165.70,285.70C167.33,288.90 169.75,292.98 171.80,295.20C173.85,297.42 175.78,298.03 178.00,299.00C180.22,299.97 182.43,300.57 185.10,301.00C187.77,301.43 191.02,301.63 194.00,301.60C196.98,301.57 200.82,301.33 203.00,300.80C205.18,300.27 205.83,299.37 207.10,298.40C208.37,297.43 209.55,296.62 210.60,295.00C211.65,293.38 212.67,291.38 213.40,288.70C214.13,286.02 214.55,282.85 215.00,278.90C215.45,274.95 215.72,270.15 216.10,265.00C216.48,259.85 216.82,253.83 217.30,248.00C217.78,242.17 218.48,235.50 219.00,230.00C219.52,224.50 219.83,220.32 220.40,215.00C220.97,209.68 221.90,198.10 222.40,198.10C222.90,198.10 223.20,209.68 223.40,215.00C223.60,220.32 223.42,224.50 223.60,230.00C223.78,235.50 224.23,242.17 224.50,248.00C224.77,253.83 224.97,260.32 225.20,265.00C225.43,269.68 225.55,272.62 225.90,276.10C226.25,279.58 226.72,283.10 227.30,285.90C227.88,288.70 228.47,290.82 229.40,292.90C230.33,294.98 231.40,296.97 232.90,298.40C234.40,299.83 236.08,300.60 238.40,301.50C240.72,302.40 244.03,303.28 246.80,303.80C249.57,304.32 249.47,304.40 255.00,304.60C260.53,304.80 264.00,304.90 280.00,305.00C296.00,305.10 339.17,305.17 351.00,305.20" stroke="#ff2a2a" stroke-width="1.2" fill="none"/>
<path d="M259.7,213.2h4.9" stroke="#ff2a2a" stroke-width="1"/>
<path d="M259.7,223.2h2.5" stroke="#222" stroke-width="1"/>
<path d="M259.7,233h2.5M263.4,233h1.2" stroke="#2030d8" stroke-width="1"/>
<text x="272.80" y="215.60" font-size="9.7" fill="#ff2020" text-anchor="start" font-weight="normal" font-style="normal" >2D</text>
<text x="272.80" y="225.40" font-size="9.7" fill="#000" text-anchor="start" font-weight="normal" font-style="normal" >3D without factor</text>
<text x="272.80" y="235.40" font-size="9.7" fill="#1f5bd2" text-anchor="start" font-weight="normal" font-style="normal" >3D with factor</text></svg>
</body></html>
